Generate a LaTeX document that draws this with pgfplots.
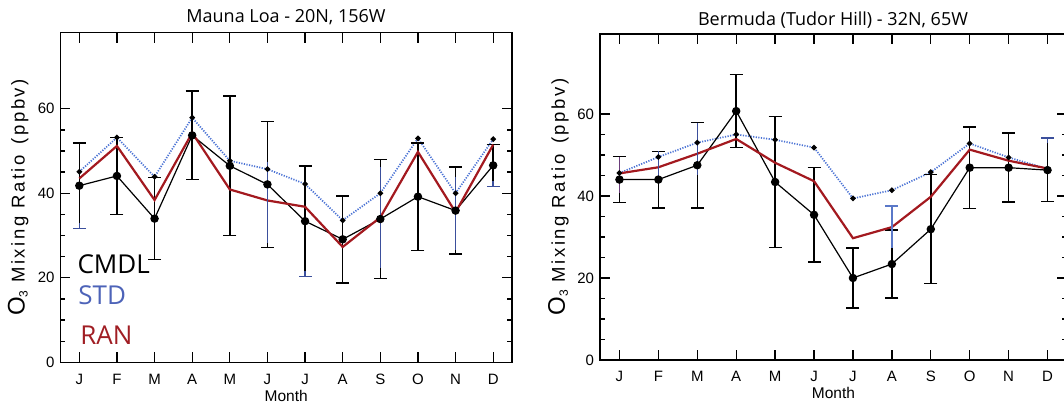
\documentclass[border=0pt]{standalone}
\usepackage{fontspec}
\setmainfont{Liberation Sans}
\newfontfamily\titlefont{Open Sans}
\newfontfamily\ylabfont[LetterSpace=14]{Liberation Sans}
\usepackage{pgfplots}
\pgfplotsset{compat=1.18}

\definecolor{stdline}{HTML}{4A72D4}
\definecolor{stdtext}{HTML}{4D63B8}
\definecolor{stdbar}{HTML}{3B4F9C}
\definecolor{stdbarlt}{HTML}{5A78C8}
\definecolor{ranline}{HTML}{A3191F}
\definecolor{rantext}{HTML}{A01E24}
\definecolor{purplebar}{HTML}{6A3D7A}

\pgfplotsset{
  o3panel/.style={
    scale only axis,
    xmin=0.5, xmax=12.5, ymin=0,
    xtick={1,...,12}, xticklabels={J,F,M,A,M,J,J,A,S,O,N,D},
    ytick={0,20,40,60}, minor y tick num=3,
    tick align=inside,
    major tick length=10bp, minor tick length=5bp,
    every tick/.style={line width=1.3bp, black},
    every minor tick/.style={line width=1.3bp, black},
    axis line style={line width=1.5bp},
    tick label style={font=\fontsize{15bp}{18bp}\selectfont},
    /pgf/number format/assume math mode=true,
    xticklabel style={yshift=-8bp},
    yticklabel style={xshift=-2.5bp},
    xlabel={Month},
    xlabel style={font=\fontsize{15.5bp}{18bp}\selectfont,
      at={(axis description cs:0.5,0)}, anchor=base, yshift=-39bp},
    ylabel={{\fontsize{24bp}{24bp}\selectfont O}\raisebox{-3bp}{\fontsize{12bp}{12bp}\selectfont 3}\ Mixing Ratio\kern3bp{} (ppbv)},
    ylabel style={font=\ylabfont\fontsize{18.5bp}{20bp}\selectfont, anchor=center},
    clip=false,
  },
  cmdl/.style={black, line width=1.2bp, mark=*, mark size=3.6bp,
    error bars/y dir=both, error bars/y explicit,
    error bars/error bar style={line width=1.5bp, black},
    error bars/error mark options={rotate=90, line width=1.5bp, mark size=6.5bp, black}},
  std/.style={stdline, line width=1.7bp, dash pattern=on 1.2bp off 1.4bp,
    mark=*, mark size=1.8bp, mark options={solid, fill=black, draw=black}},
  ran/.style={ranline, line width=2.2bp, mark=none},
  seg/.style={only marks, mark=text, text mark={}, forget plot,
    error bars/y dir=#1, error bars/y explicit,
    error bars/error bar style={line width=1.5bp}},
  segcap/.style={error bars/error mark options={rotate=90, #1, line width=1.5bp, mark size=6.5bp}},
}

\begin{document}
\begin{tikzpicture}
\path[use as bounding box] (0,0) rectangle (1064bp,404bp);

% ---------------- Mauna Loa ----------------
\begin{axis}[o3panel, at={(60.5bp,41.7bp)}, anchor=south west,
  width=451.5bp, height=329.6bp, ymax=78,
  ylabel style={at={(axis description cs:-0.094,0.5)}}]
\addplot[std] coordinates {
  (1,45.1) (2,53.2) (3,43.9) (4,57.9) (5,47.7) (6,45.7)
  (7,42.2) (8,33.6) (9,40.0) (10,53.0) (11,40.0) (12,52.8)};
\addplot[cmdl] coordinates {
  (1,41.8) +- (0,10.1) (2,44.1) +- (0,9.1) (3,34.0) +- (0,9.7)
  (4,53.7) +- (0,10.5) (5,46.5) +- (0,16.5) (6,42.1) +- (0,14.9)
  (7,33.4) +- (0,13.1) (8,29.1) +- (0,10.3) (9,33.9) +- (0,14.1)
  (10,39.2) +- (0,12.7) (11,35.9) +- (0,10.3) (12,46.6) +- (0,5.0)};
\addplot[ran] coordinates {
  (1,43.5) (2,51.2) (3,38.4) (4,54.3) (5,40.9) (6,38.3)
  (7,36.8) (8,27.3) (9,34.3) (10,49.8) (11,35.5) (12,51.5)};
% blue parts of the bars
\addplot[stdbar, seg=minus, segcap=stdbar]
  coordinates {(1,33.0) -= (0,1.3) (7,21.5) -= (0,1.2) (12,42.8) -= (0,1.2)};
\addplot[stdbar, seg=minus, error bars/error mark=none]
  coordinates {(6,47.5) -= (0,19.3) (9,46.1) -= (0,23.8) (11,43.9) -= (0,17.3)};
\node[anchor=base west, font=\titlefont\fontsize{26bp}{28bp}\selectfont, black]
  at (rel axis cs:0.030,0.270) {CMDL};
\node[anchor=base west, font=\titlefont\fontsize{26bp}{28bp}\selectfont, text=stdtext]
  at (rel axis cs:0.032,0.174) {STD};
\node[anchor=base west, font=\titlefont\fontsize{26bp}{28bp}\selectfont, text=rantext]
  at (rel axis cs:0.036,0.0525) {RAN};
\end{axis}

% ---------------- Bermuda ----------------
\begin{axis}[o3panel, at={(600bp,44bp)}, anchor=south west,
  width=467bp, height=326bp, ymax=79.5,
  ylabel style={at={(axis description cs:-0.089,0.5)}}]
\addplot[std] coordinates {
  (1,45.6) (2,49.5) (3,53.0) (4,55.0) (5,53.7) (6,51.8)
  (7,39.4) (8,41.4) (9,45.8) (10,52.8) (11,49.4) (12,46.6)};
\addplot[cmdl] coordinates {
  (1,44.0) +- (0,5.6) (2,44.0) +- (0,6.9) (3,47.5) +- (0,10.4)
  (4,60.7) +- (0,8.9) (5,43.4) +- (0,16.0) (6,35.4) +- (0,11.5)
  (7,20.0) +- (0,7.3) (8,23.4) +- (0,8.3) (9,31.9) +- (0,13.3)
  (10,46.9) +- (0,9.9) (11,46.9) +- (0,8.4) (12,46.3) +- (0,7.7)};
\addplot[ran] coordinates {
  (1,45.5) (2,47.0) (3,50.3) (4,53.9) (5,48.1) (6,43.6)
  (7,29.7) (8,32.4) (9,39.8) (10,51.3) (11,48.6) (12,46.7)};
\addplot[purplebar, seg=minus, error bars/error mark=none]
  coordinates {(1,49.6) -= (0,8.8)};
\addplot[stdbar, seg=minus, error bars/error mark=none]
  coordinates {(2,50.9) -= (0,6.5) (3,57.9) -= (0,12.7)};
\addplot[stdbarlt, seg=plus, segcap=stdbarlt]
  coordinates {(8,27.3) += (0,10.2)};
\addplot[stdbar, seg=plus, segcap=stdbar]
  coordinates {(12,53.0) += (0,1.1)};
\end{axis}

\node[anchor=base, font=\titlefont\fontsize{18bp}{20bp}\selectfont] at (286bp,381bp) {Mauna Loa - 20N, 156W};
\node[anchor=base, font=\titlefont\fontsize{18bp}{20bp}\selectfont] at (833bp,378bp) {Bermuda (Tudor Hill) - 32N, 65W};
\end{tikzpicture}
\end{document}
